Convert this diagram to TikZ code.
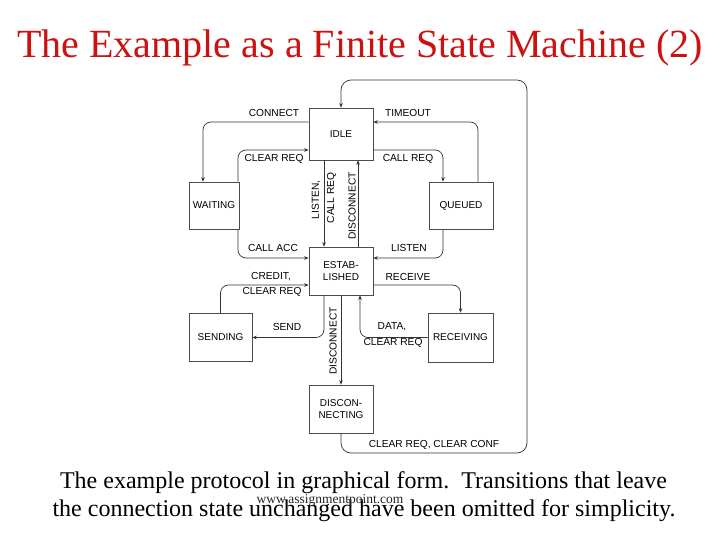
\documentclass[tikz,border=0pt]{standalone}
\usepackage{fontspec}
\setmainfont{Liberation Serif}
\newfontfamily\lblfont{Liberation Sans}
\usetikzlibrary{arrows.meta}
\definecolor{titlered}{RGB}{204,17,17}
\begin{document}
\begin{tikzpicture}[x=1pt,y=-1pt,
  state/.style={draw=black!70, line width=0.6pt, inner sep=0pt, align=center,
    font=\lblfont\fontsize{10}{12}\selectfont},
  lbl/.style={inner sep=0pt, font=\lblfont\fontsize{10.2}{12}\selectfont},
  vlbl/.style={lbl, rotate=90},
  arr/.style={draw=black!80, line width=0.7pt, rounded corners=8pt,
    -{Stealth[length=4.5pt,width=3.5pt]}}]
\useasboundingbox (0,0) rectangle (720,540);
\fill[white] (0,0) rectangle (720,540);

% title
\node[anchor=base, inner sep=0pt, text=titlered, font=\fontsize{40}{44}\selectfont] (title) at (360,58) {The Example as a Finite State Machine (2)};

% states
\node[state, minimum width=64pt, minimum height=52pt] (idle) at (341,134) {IDLE};
\node[state, minimum width=50pt, minimum height=47pt] (waiting) at (214,205.5) {WAITING};
\node[state, minimum width=64pt, minimum height=47pt] (queued) at (461,205.5) {QUEUED};
\node[state, minimum width=64pt, minimum height=48pt] (est) at (341,271) {ESTAB-\\LISHED};
\node[state, minimum width=63pt, minimum height=48pt] (sending) at (220.5,337.5) {SENDING};
\node[state, minimum width=65pt, minimum height=49pt] (receiving) at (460.5,337.5) {RECEIVING};
\node[state, minimum width=64pt, minimum height=48pt] (disc) at (341,409) {DISCON-\\NECTING};

% loop corners
\coordinate (lr) at (527,453);
\coordinate (lt) at (527,80);

% transitions
\draw[arr] ([yshift=12pt]idle.west) -| ([xshift=-11pt]waiting.north);
\draw[arr] ([xshift=24pt]waiting.north) |- ([yshift=-16pt]idle.west);
\draw[arr] ([yshift=-16pt]idle.east) -| ([xshift=-18pt]queued.north);
\draw[arr] ([xshift=17pt]queued.north) |- ([yshift=12pt]idle.east);
\draw[arr, rounded corners=10pt] (disc.south) |- (lr) -- (lt) -| (idle.north);
\draw[arr] ([xshift=-17pt]idle.south) -- ([xshift=-17pt]est.north);
\draw[arr] ([xshift=17pt]est.north) -- ([xshift=17pt]idle.south);
\draw[arr] ([xshift=24pt]waiting.south) |- ([yshift=13pt]est.west);
\draw[arr] ([xshift=-18pt]queued.south) |- ([yshift=13pt]est.east);
\draw[arr] (sending.north) |- ([yshift=-14pt]est.west);
\draw[arr] ([yshift=-14pt]est.east) -| (receiving.north);
\draw[arr] ([xshift=-17pt]est.south) |- (sending.east);
\draw[arr] (receiving.west) -| ([xshift=19pt]est.south);
\draw[arr] (est.south) -- (disc.north);

% labels
\node[lbl] (lconnect) at (274,113) {CONNECT};
\node[lbl] (lclr1) at (274,159) {CLEAR REQ};
\node[lbl] (lcallreq) at (408,159) {CALL REQ};
\node[lbl] (ltimeout) at (408,113) {TIMEOUT};
\node[lbl] (lclrconf) at (434,445) {CLEAR REQ, CLEAR CONF};
\node[vlbl] (llisten1) at (316,200) {LISTEN,};
\node[vlbl] (lcallreq2) at (331.5,198) {CALL REQ};
\node[vlbl] (ldisc1) at (352,206) {DISCONNECT};
\node[lbl] (lcallacc) at (273,248) {CALL ACC};
\node[lbl] (llisten2) at (409,248) {LISTEN};
\node[lbl] (lcredit) at (271,277) {CREDIT,};
\node[lbl] (lclr2) at (272,292) {CLEAR REQ};
\node[lbl] (lreceive) at (408,277) {RECEIVE};
\node[lbl] (lsend) at (287,327) {SEND};
\node[lbl] (ldata) at (392,327) {DATA,};
\node[lbl] (lclr3) at (393,343) {CLEAR REQ};
\node[vlbl] (ldisc2) at (333,341) {DISCONNECT};

% caption
\node[anchor=base, inner sep=0pt, font=\fontsize{24}{28}\selectfont] (cap1) at (363.5,488) {The example protocol in graphical form.\ \ Transitions that leave};
\node[anchor=base, inner sep=0pt, font=\fontsize{24}{28}\selectfont] (cap2) at (364,516) {the connection state unchanged have been omitted for simplicity.};
\node[anchor=base, inner sep=0pt, text=black!85, font=\fontsize{13.5}{15}\selectfont] (wm) at (330,503) {www.assignmentpoint.com};
\end{tikzpicture}
\end{document}
